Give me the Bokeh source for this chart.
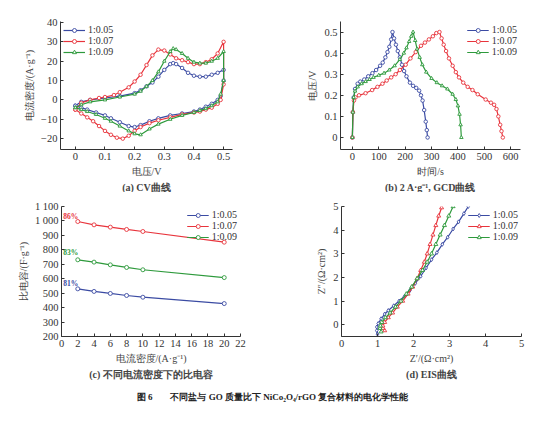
from bokeh.plotting import figure
from bokeh.layouts import column, row
from bokeh.models import FixedTicker, ColumnDataSource
from bokeh.core.properties import value
from bokeh.embed import file_html
from bokeh.resources import INLINE

FONT = "Liberation Serif"
BLUE = "#3b4ba3"
RED = "#e8343c"
GREEN = "#2e9a3c"
SERIES = ["1:0.05", "1:0.07", "1:0.09"]

# ---------------- (a) CV ----------------
cv_blue_x = [0, 0.02, 0.05, 0.1, 0.15, 0.2, 0.22, 0.24, 0.26, 0.28, 0.30, 0.32, 0.33, 0.34, 0.36, 0.38, 0.40, 0.42, 0.44, 0.46, 0.48, 0.5,
             0.5, 0.49, 0.48, 0.46, 0.44, 0.42, 0.40, 0.36, 0.32, 0.28, 0.25, 0.22, 0.20, 0.18, 0.15, 0.12, 0.10, 0.07, 0.04, 0.02, 0]
cv_blue_y = [-3, -1, 0, 1, 2, 3.5, 5, 7, 9, 12, 15.5, 18.5, 19, 18.5, 16.5, 14, 12.5, 12, 12, 13, 14, 15.5,
             10, 2, 0, -2, -3.5, -5, -6, -7, -8, -9.5, -11, -13, -14, -13.5, -11.5, -9.5, -8, -6.5, -5, -4, -3]
cv_red_x = [0, 0.02, 0.05, 0.08, 0.1, 0.13, 0.15, 0.18, 0.2, 0.22, 0.24, 0.26, 0.28, 0.30, 0.32, 0.34, 0.36, 0.38, 0.40, 0.42, 0.44, 0.46, 0.48, 0.5,
            0.5, 0.49, 0.48, 0.46, 0.44, 0.42, 0.40, 0.36, 0.32, 0.28, 0.25, 0.22, 0.20, 0.18, 0.16, 0.14, 0.12, 0.10, 0.08, 0.06, 0.04, 0.02, 0.0]
cv_red_y = [-5, -1.5, 0, 1, 1.5, 2.5, 4, 6.5, 9.5, 13, 18, 23, 26, 25.5, 23.5, 21.5, 20.5, 19.5, 18.5, 18.5, 19.5, 21, 24, 30,
            8, 0, -2, -4, -5, -6, -6.5, -7.5, -9, -10.5, -12, -14, -16, -18.5, -20, -19.5, -18, -16, -13.5, -11, -9, -7, -5]
cv_green_x = [0, 0.02, 0.05, 0.1, 0.15, 0.2, 0.22, 0.24, 0.26, 0.28, 0.30, 0.32, 0.33, 0.34, 0.36, 0.38, 0.40, 0.42, 0.44, 0.46, 0.48, 0.5,
              0.5, 0.49, 0.48, 0.46, 0.44, 0.42, 0.40, 0.36, 0.32, 0.28, 0.25, 0.22, 0.20, 0.18, 0.15, 0.12, 0.10, 0.07, 0.04, 0.02, 0]
cv_green_y = [-4, -2.5, -1, 0, 1.5, 3, 4.5, 7, 10, 14.5, 20, 25, 26.5, 26, 24, 21.5, 19.5, 19, 19, 20, 21.5, 25,
              10, 3, -1, -3, -4.5, -5.5, -6.5, -8, -10, -12.5, -15, -18, -17.5, -16, -13.5, -11, -9.5, -7.5, -6, -5, -4]

# ---------------- (b) GCD ----------------
gcd_blue_t = [0, 2, 5, 10, 20, 30, 45, 60, 76, 90, 105, 115, 125, 133, 140, 147, 152,
              158, 165, 172, 180, 188, 196, 205, 218, 230, 242, 253, 260, 266, 272, 278, 282, 285]
gcd_blue_v = [0, 0.12, 0.19, 0.23, 0.255, 0.265, 0.275, 0.29, 0.305, 0.32, 0.34, 0.355, 0.38, 0.405, 0.43, 0.465, 0.5,
              0.47, 0.44, 0.41, 0.38, 0.345, 0.315, 0.29, 0.26, 0.245, 0.235, 0.222, 0.2, 0.175, 0.13, 0.075, 0.035, 0]
gcd_red_t = [0, 2, 6, 12, 25, 50, 75, 95, 114, 130, 147, 164, 180, 202, 220, 240, 260, 275, 290, 305, 318, 330,
             338, 346, 355, 366, 380, 392, 404, 420, 437, 455, 475, 505, 525, 537, 546, 553, 560, 565, 570]
gcd_red_v = [0, 0.12, 0.175, 0.19, 0.2, 0.21, 0.225, 0.24, 0.255, 0.27, 0.285, 0.3, 0.32, 0.345, 0.375, 0.405, 0.435, 0.45, 0.465, 0.48, 0.495, 0.5,
             0.47, 0.44, 0.41, 0.375, 0.34, 0.31, 0.285, 0.26, 0.24, 0.225, 0.205, 0.18, 0.165, 0.155, 0.135, 0.1, 0.06, 0.03, 0]
gcd_green_t = [0, 2, 5, 10, 20, 35, 50, 65, 80, 100, 120, 140, 160, 180, 195, 205, 215, 223, 230,
               238, 245, 255, 265, 280, 300, 320, 340, 360, 380, 392, 400, 406, 410, 413]
gcd_green_v = [0, 0.12, 0.19, 0.22, 0.24, 0.255, 0.265, 0.275, 0.285, 0.295, 0.305, 0.32, 0.34, 0.37, 0.4, 0.425, 0.455, 0.48, 0.5,
               0.46, 0.42, 0.38, 0.345, 0.31, 0.28, 0.26, 0.245, 0.23, 0.205, 0.18, 0.15, 0.11, 0.06, 0]

# ---------------- (c) specific capacitance ----------------
cap_density = [2, 4, 6, 8, 10, 20]
cap_blue = [530, 512, 498, 484, 472, 428]
cap_red = [996, 973, 957, 941, 927, 853]
cap_green = [731, 715, 696, 678, 662, 608]
pct_labels = ["81%", "86%", "83%"]
pct_y = [570, 1028, 784]

# ---------------- (d) EIS ----------------
eis_blue_x = [1.0, 0.98, 0.98, 1.02, 1.1, 1.2, 1.3, 1.45, 1.6, 1.75, 1.9, 2.05, 2.2, 2.35, 2.5, 2.65, 2.8, 2.95, 3.1, 3.25, 3.4, 3.52]
eis_blue_y = [-0.4, -0.25, -0.1, 0.05, 0.25, 0.45, 0.6, 0.8, 1.0, 1.2, 1.45, 1.75, 2.05, 2.4, 2.75, 3.05, 3.4, 3.7, 4.05, 4.35, 4.7, 5.0]
eis_red_x = [1.2, 1.15, 1.15, 1.2, 1.3, 1.42, 1.55, 1.7, 1.85, 1.98, 2.1, 2.2, 2.3, 2.38, 2.46, 2.54, 2.62, 2.7, 2.78]
eis_red_y = [-0.25, -0.15, -0.05, 0.1, 0.3, 0.5, 0.75, 1.0, 1.3, 1.6, 1.95, 2.3, 2.65, 3.0, 3.4, 3.8, 4.2, 4.6, 4.95]
eis_green_x = [1.1, 1.07, 1.08, 1.12, 1.22, 1.35, 1.5, 1.65, 1.8, 1.95, 2.1, 2.25, 2.38, 2.5, 2.62, 2.74, 2.86, 2.98, 3.1]
eis_green_y = [-0.3, -0.15, -0.05, 0.1, 0.3, 0.5, 0.75, 1.0, 1.3, 1.6, 1.95, 2.3, 2.65, 3.0, 3.4, 3.8, 4.2, 4.6, 5.0]

CAPTION = "图 6\u3000\u3000不同盐与 GO 质量比下 NiCo\u2082O\u2084/rGO 复合材料的电化学性能"


def make_fig(xr, yr, w, h, bl, br, bt, bb, title, xlabel, ylabel, xticks, yticks, xover=None, yover=None):
    p = figure(width=w, height=h, x_range=xr, y_range=yr, output_backend="svg", toolbar_location=None,
               min_border_left=bl, min_border_right=br, min_border_top=bt, min_border_bottom=bb,
               title=title, title_location="below")
    p.title.align = "center"
    p.title.text_font = FONT
    p.title.text_font_size = "10px"
    p.title.text_font_style = "bold"
    p.title.offset = 0
    p.title.standoff = 0
    p.grid.visible = False
    p.outline_line_color = None
    p.background_fill_color = "white"
    for ax in (p.xaxis[0], p.yaxis[0]):
        ax.axis_line_color = "#333333"
        ax.major_tick_line_color = "#333333"
        ax.major_tick_in = 3
        ax.major_tick_out = 0
        ax.minor_tick_line_color = None
        ax.major_label_text_font = FONT
        ax.major_label_text_font_size = "10.5px"
        ax.major_label_text_color = "#333333"
        ax.major_label_standoff = 3
        ax.axis_label_text_font = FONT
        ax.axis_label_text_font_size = "10px"
        ax.axis_label_text_font_style = "normal"
        ax.axis_label_text_color = "#444444"
        ax.axis_label_standoff = 3
    p.xaxis[0].axis_label = xlabel
    p.yaxis[0].axis_label = ylabel
    p.xaxis[0].ticker = FixedTicker(ticks=xticks)
    p.yaxis[0].ticker = FixedTicker(ticks=yticks)
    if xover:
        p.xaxis[0].major_label_overrides = xover
    if yover:
        p.yaxis[0].major_label_overrides = yover
    return p


def style_legend(p, loc):
    lg = p.legend[0]
    lg.location = loc
    lg.background_fill_alpha = 0
    lg.border_line_alpha = 0
    lg.label_text_font = FONT
    lg.label_text_font_size = "10px"
    lg.label_text_color = "#333333"
    lg.glyph_width = 22
    lg.glyph_height = 10
    lg.label_height = 10
    lg.spacing = 0
    lg.padding = 1
    lg.margin = 2
    lg.label_standoff = 3


def series(p, xs, ys, color, label, marker, size=3.5):
    p.line(xs, ys, line_color=color, line_width=1.2, legend_label=label)
    p.scatter(xs, ys, marker=marker, size=size, line_color=color, fill_color="white", line_width=0.9,
              legend_label=label)


# (a)
pa = make_fig((-0.05, 0.53), (-25.6, 40.5), 272, 192, 60, 40, 21, 38, "(a) CV曲线",
              "电压/V", "电流密度/(A·g\u207b\u00b9)",
              [0, 0.1, 0.2, 0.3, 0.4, 0.5], [-20, -10, 0, 10, 20, 30, 40],
              xover={0: "0"}, yover={-20: "\u221220", -10: "\u221210"})
series(pa, cv_blue_x, cv_blue_y, BLUE, SERIES[0], "circle")
series(pa, cv_red_x, cv_red_y, RED, SERIES[1], "circle")
series(pa, cv_green_x, cv_green_y, GREEN, SERIES[2], "triangle")
style_legend(pa, "top_left")

# (b)
pb = make_fig((-45, 637), (-0.057, 0.55), 272, 192, 68, 24, 20, 38, "(b) 2 A·g\u207b\u00b9, GCD曲线",
              "时间/s", "电压/V",
              [0, 100, 200, 300, 400, 500, 600], [0, 0.1, 0.2, 0.3, 0.4, 0.5],
              yover={0: "0"})
series(pb, gcd_blue_t, gcd_blue_v, BLUE, SERIES[0], "circle")
series(pb, gcd_red_t, gcd_red_v, RED, SERIES[1], "circle")
series(pb, gcd_green_t, gcd_green_v, GREEN, SERIES[2], "triangle")
style_legend(pb, "top_right")

# (c)
pc = make_fig((0, 22), (200, 1100), 272, 188, 61, 32, 13, 44, "(c) 不同电流密度下的比电容",
              "电流密度/(A·g\u207b\u00b9)", "比电容/(F·g\u207b\u00b9)",
              list(range(0, 23, 2)), list(range(200, 1101, 100)),
              yover={1000: "1 000", 1100: "1 100"})
series(pc, cap_density, cap_blue, BLUE, SERIES[0], "circle", 4)
series(pc, cap_density, cap_red, RED, SERIES[1], "circle", 4)
series(pc, cap_density, cap_green, GREEN, SERIES[2], "circle", 4)
style_legend(pc, "top_right")
pct_src = ColumnDataSource(dict(x=[0.2, 0.2, 0.2], y=pct_y, t=pct_labels, c=[BLUE, RED, GREEN]))
pc.text(x="x", y="y", text="t", text_color="c", source=pct_src, text_font=value(FONT),
        text_font_size="7.5px", text_font_style="bold", text_baseline="middle", text_align="left")

# (d)
pd_ = make_fig((0, 5), (-0.5, 5), 272, 188, 69, 23, 14, 44, "(d) EIS曲线",
               "Z\u2032/(\u03a9·cm\u00b2)", "Z\u2033/(\u03a9·cm\u00b2)",
               [0, 1, 2, 3, 4, 5], [0, 1, 2, 3, 4, 5])
series(pd_, eis_blue_x, eis_blue_y, BLUE, SERIES[0], "diamond", 4)
series(pd_, eis_red_x, eis_red_y, RED, SERIES[1], "triangle", 4)
series(pd_, eis_green_x, eis_green_y, GREEN, SERIES[2], "triangle", 4)
style_legend(pd_, "top_right")

# figure caption
pcap = figure(width=544, height=26, x_range=(0, 1), y_range=(0, 1), output_backend="svg",
              toolbar_location=None, min_border=0)
pcap.axis.visible = False
pcap.grid.visible = False
pcap.outline_line_color = None
pcap.text(x=[0.5], y=[0.35], text=[CAPTION], text_font=value(FONT), text_font_size="9px",
          text_font_style="bold", text_align="center", text_baseline="middle", text_color="#222222")

layout = column(row(pa, pb), row(pc, pd_), pcap)
open("out.html", "w").write(file_html(layout, INLINE))
